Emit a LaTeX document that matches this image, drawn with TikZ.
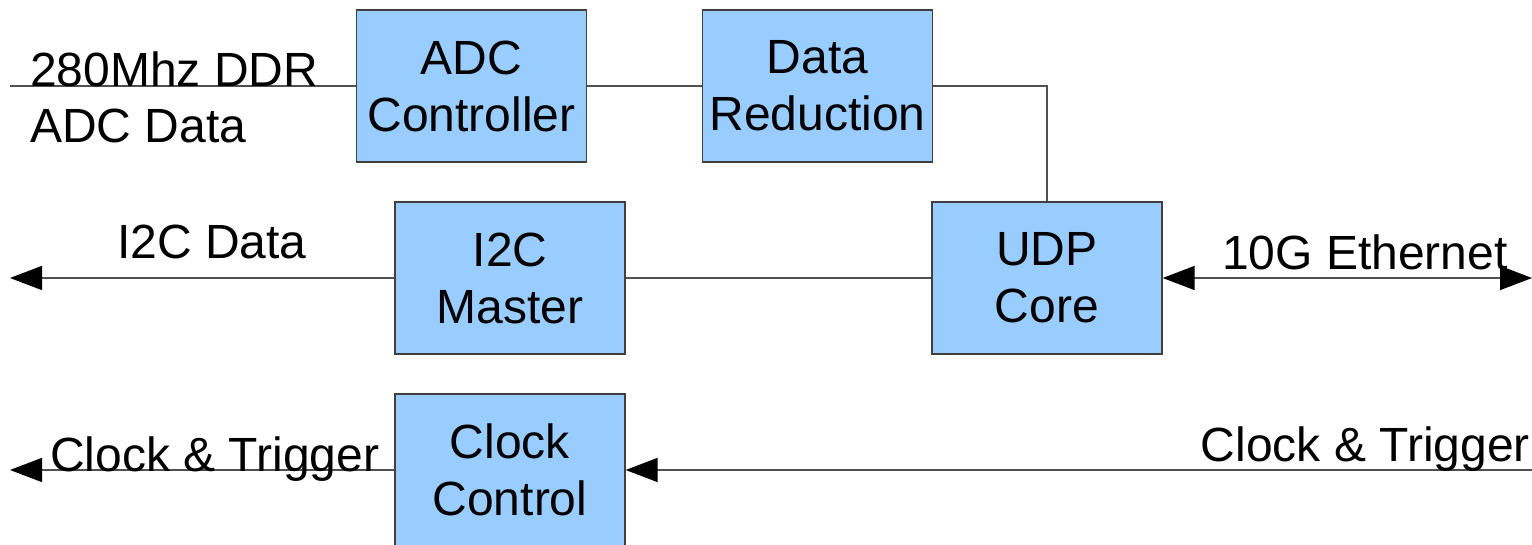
\documentclass[tikz,border=0pt]{standalone}
\usepackage{fontspec}
\setmainfont{Liberation Sans}
\usetikzlibrary{arrows.meta}
\definecolor{boxfill}{HTML}{99CCFF}
\definecolor{linegray}{HTML}{505050}
\begin{document}
\begin{tikzpicture}[x=1pt,y=-1pt,
  blk/.style={draw=black!75, line width=1.3pt, fill=boxfill, minimum width=230pt, minimum height=152pt,
    inner sep=0pt, align=center, font=\fontsize{48}{57}\selectfont},
  lbl/.style={inner sep=0pt, anchor=base west, font=\fontsize{48}{57}\selectfont},
  conn/.style={draw=linegray, line width=1.5pt},
  tip/.style={-{Triangle[length=32pt,width=24pt,color=black]}}
]
\useasboundingbox (0,0) rectangle (1532,545);
\node[blk] (adc) at (471.5,86) {ADC\\Controller};
\node[blk] (dr) at (817.5,86) {Data\\Reduction};
\node[blk] (i2c) at (510,278) {I2C\\Master};
\node[blk] (udp) at (1047,278) {UDP\\Core};
\node[blk] (clk) at (510,470) {Clock\\Control};
\coordinate (inL) at (10,86);
\coordinate (i2cL) at (10,278);
\coordinate (ethR) at (1532,278);
\coordinate (clkR) at (1532,470);
\coordinate (clkL) at (10,470);
\draw[conn] (inL) -- (adc.west);
\draw[conn] (adc.east) -- (dr.west);
\draw[conn] (dr.east) -| (udp.north);
\draw[conn] (udp.west) -- (i2c.east);
\draw[conn,tip] (i2c.west) -- (i2cL);
\draw[conn,{Triangle[length=32pt,width=24pt,color=black]}-{Triangle[length=32pt,width=24pt,color=black]}] (udp.east) -- (ethR);
\draw[conn,tip] (clkR) -- (clk.east);
\draw[conn,tip] (clk.west) -- (clkL);
\node[lbl] (t1) at (30,87) {280Mhz DDR};
\node[lbl] (t2) at (30,143) {ADC Data};
\node[lbl] (t3) at (117,259) {I2C Data};
\node[lbl] (t4) at (1222,270) {10G Ethernet};
\node[lbl] (t5) at (50,471) {Clock \& Trigger};
\node[lbl, anchor=base east] (t6) at (1530,461) {Clock \& Trigger};
\end{tikzpicture}
\end{document}
